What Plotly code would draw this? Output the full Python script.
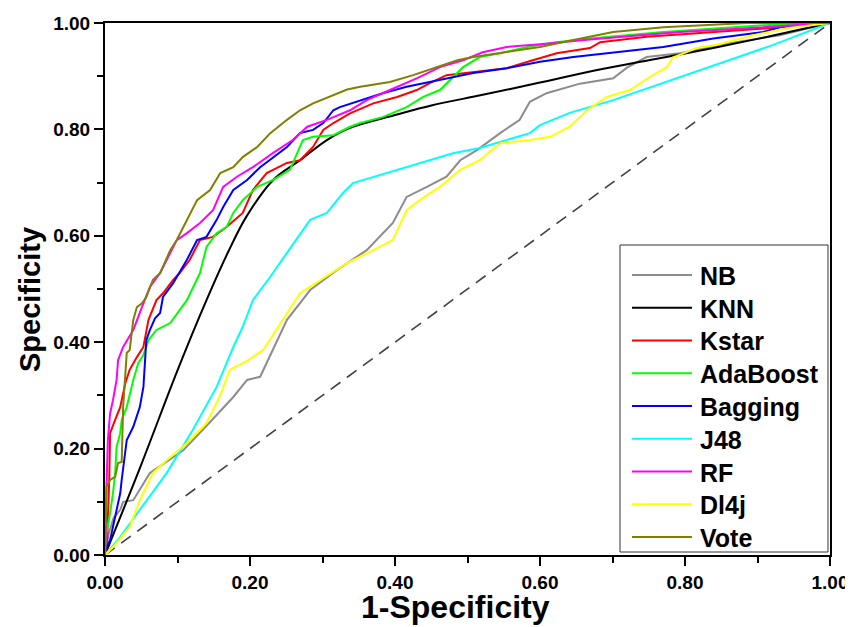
import plotly.graph_objects as go

# ---- data ----
NB_x = [0, 0.005, 0.012, 0.021, 0.025, 0.039, 0.062, 0.085, 0.108, 0.145, 0.177, 0.196, 0.214, 0.251, 0.283, 0.32, 0.361, 0.397, 0.416, 0.444, 0.471, 0.49, 0.513, 0.545, 0.572, 0.586, 0.609, 0.655, 0.701, 0.72, 0.747, 0.793, 0.848, 0.931, 1.0]
NB_y = [0, 0.04, 0.07, 0.085, 0.10, 0.103, 0.154, 0.175, 0.197, 0.25, 0.297, 0.329, 0.335, 0.442, 0.498, 0.536, 0.573, 0.624, 0.673, 0.692, 0.711, 0.742, 0.761, 0.793, 0.818, 0.852, 0.868, 0.886, 0.896, 0.916, 0.936, 0.943, 0.959, 0.977, 1.0]

KNN_x = [0, 0.05, 0.1, 0.14, 0.17, 0.195, 0.232, 0.269, 0.306, 0.338, 0.4, 0.45, 0.521, 0.6, 0.669, 0.75, 0.839, 0.92, 1.0]
KNN_y = [0, 0.17, 0.347, 0.479, 0.57, 0.636, 0.705, 0.742, 0.78, 0.803, 0.827, 0.845, 0.865, 0.888, 0.909, 0.93, 0.953, 0.976, 1.0]

Kstar_x = [0, 0.003, 0.006, 0.007, 0.014, 0.021, 0.028, 0.034, 0.044, 0.053, 0.06, 0.071, 0.08, 0.094, 0.103, 0.117, 0.131, 0.149, 0.168, 0.19, 0.204, 0.223, 0.251, 0.269, 0.287, 0.301, 0.315, 0.338, 0.37, 0.403, 0.43, 0.448, 0.471, 0.499, 0.554, 0.59, 0.623, 0.669, 0.683, 0.747, 0.839, 0.913, 1.0]
Kstar_y = [0, 0.03, 0.15, 0.229, 0.254, 0.278, 0.323, 0.348, 0.372, 0.391, 0.442, 0.479, 0.492, 0.517, 0.53, 0.555, 0.592, 0.598, 0.617, 0.643, 0.686, 0.718, 0.737, 0.742, 0.767, 0.799, 0.812, 0.83, 0.849, 0.861, 0.874, 0.887, 0.902, 0.906, 0.915, 0.93, 0.943, 0.953, 0.964, 0.974, 0.983, 0.99, 1.0]

Ada_x = [0, 0.002, 0.007, 0.011, 0.014, 0.016, 0.021, 0.023, 0.03, 0.039, 0.046, 0.053, 0.06, 0.071, 0.09, 0.103, 0.113, 0.131, 0.14, 0.154, 0.168, 0.177, 0.19, 0.21, 0.232, 0.255, 0.265, 0.273, 0.287, 0.315, 0.338, 0.352, 0.383, 0.416, 0.439, 0.462, 0.476, 0.494, 0.517, 0.545, 0.582, 0.623, 0.669, 0.77, 0.908, 1.0]
Ada_y = [0, 0.04, 0.079, 0.116, 0.154, 0.203, 0.229, 0.254, 0.278, 0.329, 0.361, 0.376, 0.404, 0.423, 0.436, 0.461, 0.479, 0.53, 0.579, 0.605, 0.617, 0.643, 0.667, 0.692, 0.705, 0.724, 0.756, 0.78, 0.786, 0.789, 0.805, 0.812, 0.823, 0.842, 0.861, 0.874, 0.893, 0.917, 0.936, 0.943, 0.955, 0.964, 0.971, 0.983, 0.996, 1.0]

Bag_x = [0, 0.002, 0.007, 0.011, 0.016, 0.021, 0.023, 0.025, 0.03, 0.039, 0.048, 0.053, 0.055, 0.057, 0.062, 0.069, 0.076, 0.08, 0.094, 0.113, 0.127, 0.14, 0.154, 0.163, 0.177, 0.196, 0.214, 0.232, 0.251, 0.269, 0.287, 0.301, 0.315, 0.324, 0.352, 0.383, 0.416, 0.462, 0.508, 0.554, 0.6, 0.646, 0.701, 0.77, 0.839, 0.908, 0.931, 1.0]
Bag_y = [0, 0.015, 0.028, 0.053, 0.09, 0.116, 0.141, 0.165, 0.216, 0.241, 0.278, 0.316, 0.361, 0.404, 0.423, 0.445, 0.455, 0.485, 0.511, 0.555, 0.592, 0.598, 0.63, 0.654, 0.686, 0.705, 0.729, 0.748, 0.767, 0.793, 0.799, 0.812, 0.836, 0.842, 0.855, 0.868, 0.88, 0.893, 0.906, 0.915, 0.927, 0.936, 0.945, 0.955, 0.971, 0.983, 0.992, 1.0]

J48_x = [0, 0.021, 0.048, 0.085, 0.121, 0.154, 0.177, 0.19, 0.204, 0.228, 0.251, 0.283, 0.306, 0.328, 0.342, 0.389, 0.434, 0.48, 0.517, 0.586, 0.6, 0.641, 0.701, 0.77, 0.839, 0.92, 1.0]
J48_y = [0, 0.034, 0.085, 0.154, 0.235, 0.316, 0.391, 0.429, 0.479, 0.523, 0.568, 0.63, 0.643, 0.68, 0.699, 0.718, 0.737, 0.755, 0.765, 0.793, 0.808, 0.831, 0.855, 0.887, 0.919, 0.958, 1.0]

RF_x = [0, 0.001, 0.002, 0.004, 0.007, 0.011, 0.016, 0.018, 0.025, 0.039, 0.051, 0.062, 0.076, 0.09, 0.099, 0.113, 0.131, 0.149, 0.163, 0.182, 0.204, 0.232, 0.259, 0.279, 0.306, 0.338, 0.361, 0.393, 0.43, 0.462, 0.494, 0.521, 0.554, 0.6, 0.669, 0.793, 0.886, 1.0]
RF_y = [0, 0.028, 0.128, 0.216, 0.266, 0.291, 0.329, 0.366, 0.391, 0.423, 0.466, 0.504, 0.53, 0.567, 0.592, 0.605, 0.624, 0.648, 0.692, 0.711, 0.729, 0.756, 0.78, 0.805, 0.818, 0.836, 0.855, 0.874, 0.896, 0.917, 0.93, 0.945, 0.955, 0.96, 0.969, 0.983, 0.99, 1.0]

Dl4j_x = [0, 0.011, 0.034, 0.048, 0.066, 0.085, 0.113, 0.14, 0.159, 0.172, 0.196, 0.218, 0.269, 0.297, 0.333, 0.37, 0.397, 0.416, 0.434, 0.462, 0.49, 0.517, 0.545, 0.586, 0.614, 0.641, 0.665, 0.692, 0.724, 0.752, 0.775, 0.783, 0.816, 0.844, 0.894, 0.94, 1.0]
Dl4j_y = [0, 0.015, 0.053, 0.103, 0.154, 0.178, 0.21, 0.248, 0.30, 0.348, 0.365, 0.385, 0.492, 0.517, 0.548, 0.573, 0.592, 0.648, 0.667, 0.692, 0.724, 0.742, 0.774, 0.78, 0.786, 0.805, 0.836, 0.861, 0.874, 0.899, 0.917, 0.935, 0.953, 0.959, 0.977, 0.99, 1.0]

Vote_x = [0, 0.002, 0.007, 0.014, 0.018, 0.023, 0.025, 0.028, 0.030, 0.034, 0.037, 0.039, 0.044, 0.051, 0.057, 0.066, 0.076, 0.09, 0.099, 0.113, 0.127, 0.145, 0.159, 0.177, 0.19, 0.21, 0.228, 0.251, 0.269, 0.287, 0.315, 0.334, 0.352, 0.393, 0.425, 0.452, 0.486, 0.508, 0.554, 0.6, 0.646, 0.701, 0.77, 0.886, 1.0]
Vote_y = [0, 0.128, 0.141, 0.147, 0.173, 0.175, 0.278, 0.329, 0.38, 0.385, 0.417, 0.442, 0.466, 0.473, 0.485, 0.517, 0.53, 0.573, 0.592, 0.63, 0.667, 0.686, 0.718, 0.729, 0.748, 0.767, 0.793, 0.818, 0.836, 0.849, 0.865, 0.875, 0.88, 0.889, 0.902, 0.915, 0.93, 0.936, 0.945, 0.955, 0.968, 0.983, 0.992, 1.0, 1.0]

diag_x = [0, 1]
diag_y = [0, 1]

series_names = ["NB", "KNN", "Kstar", "AdaBoost", "Bagging", "J48", "RF", "Dl4j", "Vote"]
series_x = [NB_x, KNN_x, Kstar_x, Ada_x, Bag_x, J48_x, RF_x, Dl4j_x, Vote_x]
series_y = [NB_y, KNN_y, Kstar_y, Ada_y, Bag_y, J48_y, RF_y, Dl4j_y, Vote_y]
series_colors = ["#8c8c8c", "#000000", "#ff0000", "#00ff00", "#0000ff",
                 "#00ffff", "#ff00ff", "#ffff00", "#808000"]

FONT = "Liberation Sans, Arial, sans-serif"

fig = go.Figure()
fig.add_trace(go.Scatter(x=diag_x, y=diag_y, mode="lines", showlegend=False,
                         line=dict(color="#404040", width=1.6, dash="12px,8px")))
for name, xs, ys, col in zip(series_names, series_x, series_y, series_colors):
    fig.add_trace(go.Scatter(x=xs, y=ys, mode="lines", name=name, showlegend=False,
                             line=dict(color=col, width=2,
                                       shape="spline" if name == "KNN" else "linear")))

axis_common = dict(
    range=[0, 1], dtick=0.2, tick0=0, tickformat=".2f",
    showgrid=False, zeroline=False, automargin=False,
    showline=True, linecolor="black", linewidth=2, mirror=True,
    ticks="outside", ticklen=9, tickwidth=2, tickcolor="black",
    tickfont=dict(family=FONT, size=19, color="black", weight="bold"),
    minor=dict(dtick=0.1, ticks="outside", ticklen=6, tickwidth=2, tickcolor="black"),
)
fig.update_xaxes(**axis_common)
fig.update_yaxes(**axis_common)

# page offset from the default 8px body margin of the written html
OFF = 8
W, H = 853 - OFF, 627 - OFF
L, T = 105 - OFF, 23 - OFF
R = W - (830 - OFF)
B = H - (555 - OFF)
PW, PH = W - L - R, H - T - B


def px_to_paper(px, py):
    # px, py are page (screenshot) pixel positions
    fx, fy = px - OFF, py - OFF
    return (fx - L) / PW, (H - B - fy) / PH


ax, ay = px_to_paper(455, 607)
fig.add_annotation(text="1-Specificity", xref="paper", yref="paper", x=ax, y=ay,
                   showarrow=False, xanchor="center", yanchor="middle",
                   font=dict(family=FONT, size=32, color="black", weight="bold"))
ax, ay = px_to_paper(30, 300)
fig.add_annotation(text="Specificity", xref="paper", yref="paper", x=ax, y=ay,
                   showarrow=False, xanchor="center", yanchor="middle", textangle=-90,
                   font=dict(family=FONT, size=29, color="black", weight="bold"))

# legend box
x0, y0 = px_to_paper(620, 552)
x1, y1 = px_to_paper(828, 245)
fig.add_shape(type="rect", xref="paper", yref="paper", x0=x0, x1=x1, y0=y0, y1=y1,
              line=dict(color="#333333", width=1), fillcolor="white", layer="below")

# legend entries
for i, (name, col) in enumerate(zip(series_names, series_colors)):
    cy = 275 + i * 32.75
    lx0, ly = px_to_paper(632, cy)
    lx1, _ = px_to_paper(692, cy)
    fig.add_shape(type="line", xref="paper", yref="paper", x0=lx0, x1=lx1, y0=ly, y1=ly,
                  line=dict(color=col, width=2))
    tx, ty = px_to_paper(698, cy + 1)
    fig.add_annotation(text=name, xref="paper", yref="paper", x=tx, y=ty,
                       showarrow=False, xanchor="left", yanchor="middle",
                       font=dict(family=FONT, size=25, color="black", weight="bold"))

fig.update_layout(
    width=W, height=H,
    margin=dict(l=L, r=R, t=T, b=B),
    paper_bgcolor="white", plot_bgcolor="white",
    showlegend=False,
)

fig.write_html("out.html")
